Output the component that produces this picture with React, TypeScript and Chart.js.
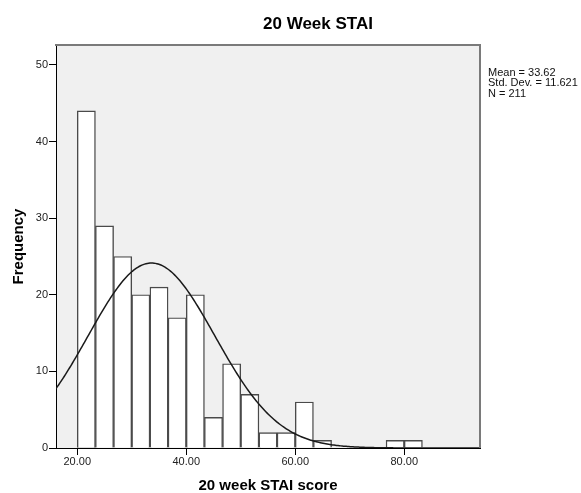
import React, { useEffect, useRef } from "react";
import { Chart, registerables } from "chart.js";
Chart.register(...registerables);

const TITLE = "20 Week STAI";
const X_TITLE = "20 week STAI score";
const Y_TITLE = "Frequency";
const BIN_START = 20;
const BIN_WIDTH = 10 / 3;
const COUNTS = [44, 29, 25, 20, 21, 17, 20, 4, 11, 7, 2, 2, 6, 1, 0, 0, 0, 1, 1];
const X_TICKS = [20, 40, 60, 80];
const Y_TICKS = [0, 10, 20, 30, 40, 50];
const MEAN = 33.62;
const SD = 11.621;
const N = 211;
const STATS_LINES = ["Mean = 33.62", "Std. Dev. = 11.621", "N = 211"];
const X_MIN = 16.1;
const X_MAX = 93.9;
const Y_MAX = 52.6;

const FONT = "'Liberation Sans', Arial, sans-serif";

export default function App() {
  const ref = useRef<HTMLCanvasElement | null>(null);

  useEffect(() => {
    document.body.style.margin = "0";
    const canvas = ref.current;
    if (!canvas) return;

    const bars = COUNTS.map((c, i) => ({
      x: BIN_START + BIN_WIDTH * (i + 0.5),
      y: c === 0 ? null : c,
    }));

    const curve: { x: number; y: number }[] = [];
    const scaleK = (N * BIN_WIDTH) / (SD * Math.sqrt(2 * Math.PI));
    for (let x = X_MIN; x <= X_MAX + 1e-9; x += 0.25) {
      const z = (x - MEAN) / SD;
      curve.push({ x, y: scaleK * Math.exp(-0.5 * z * z) });
    }

    const decor = {
      id: "decor",
      beforeDraw(chart: any) {
        const { ctx, chartArea: a } = chart;
        ctx.save();
        ctx.fillStyle = "#f0f0f0";
        ctx.fillRect(a.left, a.top, a.right - a.left, a.bottom - a.top);
        ctx.restore();
      },
      afterDraw(chart: any) {
        const { ctx, chartArea: a } = chart;
        ctx.save();
        ctx.strokeStyle = "#7a7a7a";
        ctx.lineWidth = 2;
        ctx.beginPath();
        ctx.moveTo(a.left - 1, a.top);
        ctx.lineTo(a.right, a.top);
        ctx.lineTo(a.right, a.bottom);
        ctx.stroke();

        ctx.fillStyle = "#000";
        ctx.font = `bold 17px ${FONT}`;
        ctx.textAlign = "center";
        ctx.textBaseline = "alphabetic";
        ctx.fillText(TITLE, 318, 28.5);

        ctx.font = `11px ${FONT}`;
        ctx.textAlign = "left";
        ctx.fillStyle = "#111";
        STATS_LINES.forEach((s, i) => ctx.fillText(s, 488, 76 + i * 10.4));
        ctx.restore();
      },
    };

    const chart = new Chart(canvas, {
      type: "bar",
      data: {
        datasets: [
          {
            type: "line",
            data: curve,
            borderColor: "#1a1a1a",
            borderWidth: 1.5,
            pointRadius: 0,
            tension: 0,
            fill: false,
            order: 0,
          } as any,
          {
            type: "bar",
            data: bars as any,
            backgroundColor: "#ffffff",
            borderColor: "#4a4a4a",
            borderWidth: 1.4,
            barPercentage: 1,
            categoryPercentage: 1,
            order: 1,
          },
        ],
      },
      options: {
        animation: false,
        responsive: false,
        maintainAspectRatio: false,
        layout: { padding: { left: 0, top: 45, right: 101, bottom: 0 } },
        plugins: {
          legend: { display: false },
          tooltip: { enabled: false },
          title: { display: false },
        },
        scales: {
          x: {
            type: "linear",
            min: X_MIN,
            max: X_MAX,
            offset: false,
            afterBuildTicks: (s: any) => {
              s.ticks = X_TICKS.map((v) => ({ value: v }));
            },
            afterFit: (s: any) => {
              s.height = 45;
            },
            ticks: {
              callback: (v: any) => Number(v).toFixed(2),
              font: { family: FONT, size: 11 },
              color: "#222",
              padding: 0,
              maxRotation: 0,
              autoSkip: false,
            },
            grid: {
              display: true,
              offset: false,
              drawOnChartArea: false,
              drawTicks: true,
              tickLength: 7,
              color: "#000",
            },
            border: { display: true, color: "#000", width: 1 },
            title: {
              display: true,
              text: X_TITLE,
              font: { family: FONT, size: 15, weight: "bold", lineHeight: 1 },
              color: "#000",
              padding: { top: 0, bottom: 0 },
            },
          },
          y: {
            type: "linear",
            min: 0,
            max: Y_MAX,
            afterBuildTicks: (s: any) => {
              s.ticks = Y_TICKS.map((v) => ({ value: v }));
            },
            afterFit: (s: any) => {
              s.width = 56;
            },
            ticks: {
              font: { family: FONT, size: 11 },
              color: "#222",
              padding: 1,
              autoSkip: false,
            },
            grid: {
              display: true,
              drawOnChartArea: false,
              drawTicks: true,
              tickLength: 7,
              color: "#000",
            },
            border: { display: true, color: "#000", width: 1 },
            title: {
              display: true,
              text: Y_TITLE,
              font: { family: FONT, size: 15, weight: "bold", lineHeight: 1 },
              color: "#000",
              padding: { top: 11, bottom: 0 },
            },
          },
        },
      },
      plugins: [decor],
    });

    return () => chart.destroy();
  }, []);

  return (
    <div style={{ width: 581, height: 493 }}>
      <canvas ref={ref} width={581} height={493} style={{ display: "block" }} />
    </div>
  );
}
